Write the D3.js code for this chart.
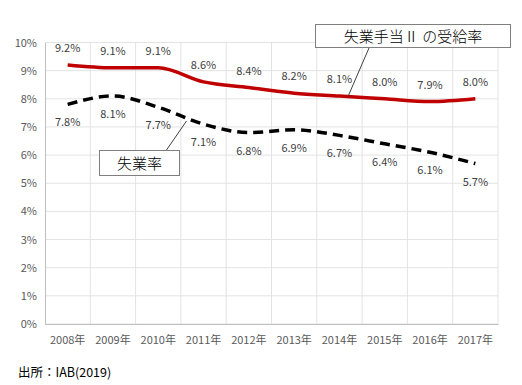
<!DOCTYPE html>
<meta charset="utf-8">
<style>
  body { margin: 0; background: #fff; }
  text { font-family: "Noto Sans CJK JP", "Noto Sans", sans-serif; }
</style>
<svg width="522" height="385"></svg>
<script src="https://cdn.jsdelivr.net/npm/d3@7"></script>
<script>

    var years = ["2008年", "2009年", "2010年", "2011年", "2012年", "2013年", "2014年", "2015年", "2016年", "2017年"];
    var benefitRate = [9.2, 9.1, 9.1, 8.6, 8.4, 8.2, 8.1, 8.0, 7.9, 8.0];
    var unemploymentRate = [7.8, 8.1, 7.7, 7.1, 6.8, 6.9, 6.7, 6.4, 6.1, 5.7];
    var yTicks = [0, 1, 2, 3, 4, 5, 6, 7, 8, 9, 10];
    var benefitName = "失業手当Ⅱ の受給率";
    var unemploymentName = "失業率";
    var source = "出所：IAB(2019)";

    var svg = d3.select("svg"),
            margin = {top: 42.5, left: 45, bottom: 61, right: 24},
            width = +svg.attr("width") - margin.left - margin.right,
            height = +svg.attr("height") - margin.top - margin.bottom;

    var x = d3.scaleBand()
            .domain(years)
            .range([0, width]);

    var y = d3.scaleLinear()
            .domain([0, 10])
            .range([height, 0]);

    var g = svg.append("g")
            .attr("transform", "translate(" + margin.left + "," + margin.top + ")");

    // grid
    g.append("g").selectAll("line")
            .data(yTicks)
            .enter().append("line")
            .attr("x1", 0).attr("x2", width)
            .attr("y1", d => y(d)).attr("y2", d => y(d))
            .attr("stroke", "#e3e3e3");

    g.append("g").selectAll("line")
            .data(years)
            .enter().append("line")
            .attr("x1", d => x(d) + x.step()).attr("x2", d => x(d) + x.step())
            .attr("y1", 0).attr("y2", height)
            .attr("stroke", "#e3e3e3");

    // axes
    var yAxis = g.append("g")
            .call(d3.axisLeft(y).tickValues(yTicks).tickFormat(d => d + "%").tickSize(0).tickPadding(8));
    yAxis.select(".domain").attr("stroke", "#bfbfbf");
    yAxis.selectAll("text").attr("fill", "#595959").style("font-size", "11px");

    var xAxis = g.append("g")
            .attr("transform", "translate(0," + height + ")")
            .call(d3.axisBottom(x).tickSize(0).tickPadding(12));
    xAxis.select(".domain").attr("stroke", "#bfbfbf");
    xAxis.selectAll("text").attr("fill", "#595959").style("font-size", "11px");

    var cx = (d, i) => x(years[i]) + x.bandwidth() / 2;

    var line = d3.line()
            .x(cx)
            .y(d => y(d))
            .curve(d3.curveMonotoneX);

    g.append("path")
            .datum(benefitRate)
            .attr("d", line)
            .attr("fill", "none")
            .attr("stroke", "#c00000")
            .attr("stroke-width", 3.5);

    g.append("path")
            .datum(unemploymentRate)
            .attr("d", line)
            .attr("fill", "none")
            .attr("stroke", "#000")
            .attr("stroke-width", 3.5)
            .attr("stroke-dasharray", "10,6");

    // data labels
    g.append("g").selectAll("text")
            .data(benefitRate)
            .enter().append("text")
            .attr("x", cx)
            .attr("y", d => y(d) - 13)
            .attr("text-anchor", "middle")
            .attr("fill", "#404040")
            .style("font-size", "11px")
            .text(d => d.toFixed(1) + "%");

    g.append("g").selectAll("text")
            .data(unemploymentRate)
            .enter().append("text")
            .attr("x", cx)
            .attr("y", d => y(d) + 22)
            .attr("text-anchor", "middle")
            .attr("fill", "#404040")
            .style("font-size", "11px")
            .text(d => d.toFixed(1) + "%");

    // callouts
    function callout(label, bx, by, bw, bh, lx1, ly1, lx2, ly2) {
        svg.append("line")
                .attr("x1", lx1).attr("y1", ly1).attr("x2", lx2).attr("y2", ly2)
                .attr("stroke", "#404040").attr("stroke-width", 1);
        svg.append("rect")
                .attr("x", bx).attr("y", by).attr("width", bw).attr("height", bh)
                .attr("fill", "#fff").attr("stroke", "#7f7f7f").attr("stroke-width", 1);
        svg.append("text")
                .attr("x", bx + bw / 2).attr("y", by + bh / 2 + 5.5)
                .attr("text-anchor", "middle")
                .attr("fill", "#000")
                .style("font-size", "15px")
                .style("font-weight", 300)
                .text(label);
    }

    callout(benefitName, 315.5, 24.5, 195, 23, 369, 48, 348, y(8.08) + margin.top);
    callout(unemploymentName, 99.5, 150.5, 80, 25, 166.5, 150, 186.5, 121);

    svg.append("text")
            .attr("x", 18).attr("y", 377)
            .attr("fill", "#000")
            .style("font-size", "12.5px")
            .text(source);

</script>
